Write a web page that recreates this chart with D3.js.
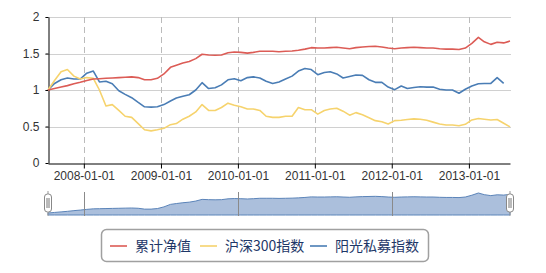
<!DOCTYPE html>
<meta charset="utf-8">
<style>
body { margin: 0; background: #fff; }
text { font-family: "Liberation Sans", Arial, sans-serif; }
.grid line { stroke: #d0d0d0; }
.vgrid line { stroke: #bbb; stroke-dasharray: 6,4; }
.axis path, .axis line { stroke: #000; }
.axis text { fill: #333; font-size: 12px; }
.legend text { font-family: "Noto Sans CJK SC", sans-serif; font-size: 14px; fill: #1e3768; }
</style>
<svg width="546" height="273"></svg>
<script src="https://d3js.org/d3.v7.min.js"></script>
<script>

// monthly points, 2007-07 .. 2013-07
var months = [
  "2007-07-15","2007-08-15","2007-09-15","2007-10-15","2007-11-15","2007-12-15",
  "2008-01-15","2008-02-15","2008-03-15","2008-04-15","2008-05-15","2008-06-15",
  "2008-07-15","2008-08-15","2008-09-15","2008-10-15","2008-11-15","2008-12-15",
  "2009-01-15","2009-02-15","2009-03-15","2009-04-15","2009-05-15","2009-06-15",
  "2009-07-15","2009-08-15","2009-09-15","2009-10-15","2009-11-15","2009-12-15",
  "2010-01-15","2010-02-15","2010-03-15","2010-04-15","2010-05-15","2010-06-15",
  "2010-07-15","2010-08-15","2010-09-15","2010-10-15","2010-11-15","2010-12-15",
  "2011-01-15","2011-02-15","2011-03-15","2011-04-15","2011-05-15","2011-06-15",
  "2011-07-15","2011-08-15","2011-09-15","2011-10-15","2011-11-15","2011-12-15",
  "2012-01-15","2012-02-15","2012-03-15","2012-04-15","2012-05-15","2012-06-15",
  "2012-07-15","2012-08-15","2012-09-15","2012-10-15","2012-11-15","2012-12-15",
  "2013-01-15","2013-02-15","2013-03-15","2013-04-15","2013-05-15","2013-06-15",
  "2013-07-15"
];

// 累计净值
var netValue = [
  1.00,1.02,1.04,1.06,1.085,1.105,
  1.13,1.15,1.155,1.16,1.165,1.17,
  1.175,1.18,1.17,1.14,1.14,1.16,
  1.22,1.31,1.34,1.37,1.39,1.43,
  1.49,1.48,1.475,1.48,1.51,1.52,
  1.515,1.505,1.515,1.53,1.53,1.53,
  1.525,1.53,1.535,1.545,1.56,1.58,
  1.575,1.575,1.58,1.585,1.575,1.566,
  1.58,1.59,1.595,1.60,1.59,1.575,
  1.565,1.575,1.58,1.585,1.58,1.575,
  1.575,1.565,1.56,1.56,1.555,1.575,
  1.64,1.72,1.66,1.625,1.655,1.645,
  1.67
];

// 沪深300指数
var hs300 = [
  1.00,1.13,1.25,1.28,1.19,1.15,
  1.17,1.16,1.00,0.78,0.80,0.72,
  0.64,0.625,0.54,0.455,0.44,0.455,
  0.475,0.525,0.54,0.60,0.64,0.70,
  0.80,0.72,0.72,0.76,0.82,0.79,
  0.77,0.74,0.74,0.72,0.64,0.625,
  0.625,0.64,0.64,0.76,0.73,0.73,
  0.67,0.72,0.74,0.75,0.71,0.655,
  0.69,0.66,0.62,0.58,0.566,0.535,
  0.58,0.585,0.595,0.605,0.60,0.585,
  0.56,0.535,0.52,0.52,0.51,0.53,
  0.59,0.61,0.60,0.59,0.595,0.545,
  0.495
];

// 阳光私募指数
var privateIdx = [
  1.00,1.09,1.14,1.165,1.15,1.15,
  1.23,1.26,1.11,1.12,1.085,0.99,
  0.94,0.895,0.83,0.77,0.765,0.77,
  0.80,0.85,0.89,0.915,0.935,1.00,
  1.10,1.02,1.03,1.07,1.14,1.155,
  1.127,1.17,1.18,1.165,1.12,1.09,
  1.11,1.15,1.19,1.26,1.295,1.28,
  1.21,1.24,1.25,1.22,1.165,1.185,
  1.205,1.20,1.14,1.105,1.105,1.04,
  1.005,1.055,1.02,1.035,1.045,1.04,
  1.04,1.01,1.00,1.00,0.955,1.01,
  1.055,1.085,1.09,1.09,1.17,1.09,
  null
];

var seriesNames = ["累计净值", "沪深300指数", "阳光私募指数"];
var seriesColors = ["#dc5c56", "#f6d36d", "#4a7db5"];
var yTicks = [0, 0.5, 1, 1.5, 2];

var parse = d3.timeParse("%Y-%m-%d");
var dates = months.map(parse);
var series = [netValue, hs300, privateIdx].map(function(vals, k) {
  return { name: seriesNames[k], color: seriesColors[k],
           values: vals.map(function(v, i) { return { date: dates[i], value: v }; }) };
});

var svg = d3.select("svg");

var x = d3.scaleTime()
    .domain(d3.extent(dates))
    .range([48, 510]);

var y = d3.scaleLinear()
    .domain([0, 2])
    .range([163, 17]);

var yearTicks = d3.timeYear.range(new Date(2008, 0, 1), new Date(2014, 0, 1));

// horizontal grid
svg.append("g")
    .attr("class", "grid")
  .selectAll("line")
  .data(yTicks.slice(1))
  .enter().append("line")
    .attr("x1", 45).attr("x2", 511)
    .attr("y1", function(d) { return Math.round(y(d)) + 0.5; })
    .attr("y2", function(d) { return Math.round(y(d)) + 0.5; });

// vertical dashed grid
svg.append("g")
    .attr("class", "vgrid")
  .selectAll("line")
  .data(yearTicks)
  .enter().append("line")
    .attr("x1", function(d) { return Math.round(x(d)) + 0.5; })
    .attr("x2", function(d) { return Math.round(x(d)) + 0.5; })
    .attr("y1", 17).attr("y2", 163);

// axes
svg.append("g")
    .attr("class", "axis")
    .attr("transform", "translate(0,163.5)")
    .call(d3.axisBottom(x).tickValues(yearTicks).tickSize(5).tickSizeOuter(0)
      .tickFormat(d3.timeFormat("%Y-%m-%d")));

svg.append("g")
    .attr("class", "axis")
    .attr("transform", "translate(48.5,0)")
    .call(d3.axisLeft(y).tickValues(yTicks).tickSize(3).tickSizeOuter(0)
      .tickFormat(function(d) { return d; }))
  .selectAll("text")
    .attr("x", -9);

// lines
var line = d3.line()
    .defined(function(d) { return d.value != null; })
    .x(function(d) { return x(d.date); })
    .y(function(d) { return y(d.value); });

svg.append("g")
  .selectAll("path")
  .data(series.slice().reverse())
  .enter().append("path")
    .attr("fill", "none")
    .attr("stroke", function(d) { return d.color; })
    .attr("stroke-width", 1.6)
    .attr("stroke-linejoin", "round")
    .attr("d", function(d) { return line(d.values); });

// data zoom slider
var ys = d3.scaleLinear()
    .domain(d3.extent(netValue))
    .range([213, 193]);

var slider = svg.append("g");

slider.append("path")
    .datum(series[0].values)
    .attr("fill", "#abbfdc")
    .attr("stroke", "#5b84b9")
    .attr("stroke-width", 1)
    .attr("d", d3.area()
      .x(function(d) { return x(d.date); })
      .y0(215)
      .y1(function(d) { return ys(d.value); }));

slider.selectAll("line.sl")
  .data(yearTicks.filter(function(d) { return d.getFullYear() % 2 === 0; }))
  .enter().append("line")
    .attr("class", "sl")
    .attr("x1", function(d) { return Math.round(x(d)) + 0.5; })
    .attr("x2", function(d) { return Math.round(x(d)) + 0.5; })
    .attr("y1", 192).attr("y2", 216)
    .attr("stroke", "#8a8a8a");

var handles = slider.selectAll("g.handle")
  .data(x.range())
  .enter().append("g")
    .attr("class", "handle")
    .attr("transform", function(d) { return "translate(" + d + ",0)"; });

handles.append("line")
    .attr("y1", 191).attr("y2", 216)
    .attr("stroke", "#999");
handles.append("rect")
    .attr("x", -3.5).attr("y", 194).attr("width", 7).attr("height", 18)
    .attr("rx", 3)
    .attr("fill", "#fff").attr("stroke", "#888");
handles.selectAll("line.grip")
  .data([-1, 1])
  .enter().append("line")
    .attr("class", "grip")
    .attr("x1", function(d) { return d; }).attr("x2", function(d) { return d; })
    .attr("y1", 198).attr("y2", 208)
    .attr("stroke", "#777");

// legend
var legend = svg.append("g").attr("class", "legend");

legend.append("rect")
    .attr("x", 101.5).attr("y", 229.5)
    .attr("width", 327).attr("height", 32)
    .attr("rx", 5)
    .attr("fill", "#fff")
    .attr("stroke", "#a0a0a0")
    .attr("stroke-width", 1.5);

var legendX = [110, 200, 310];

var item = legend.selectAll("g.item")
  .data(series)
  .enter().append("g")
    .attr("class", "item")
    .attr("transform", function(d, i) { return "translate(" + legendX[i] + ",246)"; });

item.append("line")
    .attr("x1", 0).attr("x2", 17)
    .attr("stroke", function(d) { return d.color; })
    .attr("stroke-width", 1.6);

item.append("text")
    .attr("x", 25)
    .attr("dy", "0.36em")
    .text(function(d) { return d.name; });

</script>
